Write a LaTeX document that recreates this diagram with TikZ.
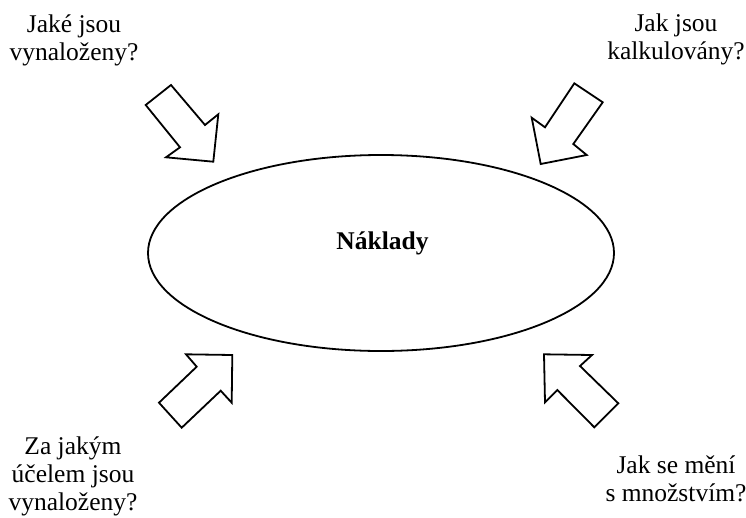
\documentclass[tikz,border=0pt]{standalone}
\usepackage{fontspec}
\setmainfont{Liberation Serif}
\usetikzlibrary{shapes.geometric}
\begin{document}
\begin{tikzpicture}[x=1pt,y=-1pt,
  lbl/.style={font=\fontsize{25.5}{28}\selectfont, align=center, inner sep=0pt},
  bigarrow/.style={draw=black, line width=1.8pt, line join=miter, fill=white}]
\useasboundingbox (0,0) rectangle (746,517);
\node[draw=black, line width=1.8pt, ellipse, minimum width=466pt, minimum height=196pt, inner sep=0pt] (ell) at (381,253) {};
\node[lbl, font=\fontsize{25.5}{28}\selectfont\bfseries] (c) at (382.5,243.5) {Náklady};
\node[lbl] (t1) at (74,40) {Jaké jsou\\vynaloženy?};
\node[lbl] (t2) at (676,39) {Jak jsou\\kalkulovány?};
\node[lbl] (t3) at (73,476) {Za jakým\\účelem jsou\\vynaloženy?};
\node[lbl] (t4) at (676,479) {Jak se mění\\s množstvím?};
\draw[bigarrow] (145.7,105) -- (171,85) -- (205,125) -- (218.3,114.3) -- (213.3,161.7) -- (166,157.3) -- (180,147.3) -- cycle;
\draw[bigarrow] (574.3,83.3) -- (602.7,102.3) -- (573.3,144) -- (586.7,155) -- (540.7,164) -- (531.7,117.7) -- (545,127.3) -- cycle;
\draw[bigarrow] (186,354.3) -- (232.3,355) -- (231.7,402.7) -- (220.7,390.7) -- (181.7,427.7) -- (159,402.7) -- (196.7,366.7) -- cycle;
\draw[bigarrow] (544,354.3) -- (592,355) -- (580,366) -- (618.3,403.3) -- (594.3,427.3) -- (557.3,390) -- (545,402.3) -- cycle;
\end{tikzpicture}
\end{document}
